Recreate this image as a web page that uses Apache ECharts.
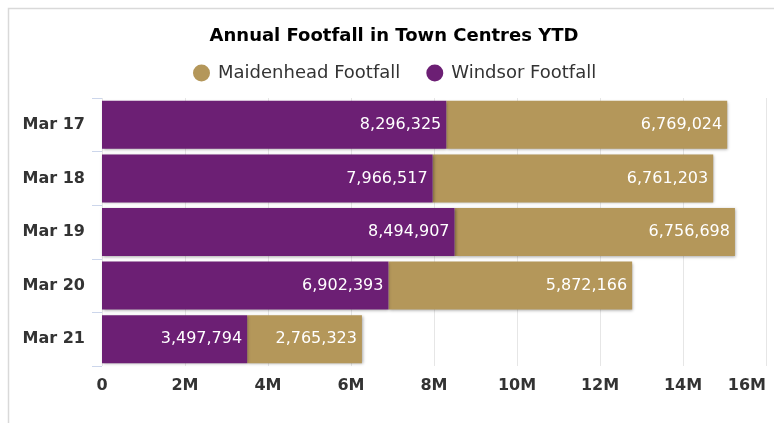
<!DOCTYPE html>
<html>
<head>
<meta charset="utf-8">
<script src="https://cdn.jsdelivr.net/npm/echarts@6/dist/echarts.min.js"></script>
<style>
  html, body { margin: 0; padding: 0; background: #fff; }
  #chart { width: 774px; height: 423px; }
</style>
</head>
<body>
<div id="chart"></div>
<script>
// Year-to-date footfall, town centres
const periods = ['Mar 17', 'Mar 18', 'Mar 19', 'Mar 20', 'Mar 21'];
const windsorFootfall = [8296325, 7966517, 8494907, 6902393, 3497794];
const maidenheadFootfall = [6769024, 6761203, 6756698, 5872166, 2765323];
const axisTicks = [0, 2e6, 4e6, 6e6, 8e6, 10e6, 12e6, 14e6, 16e6];

const FONT = '"DejaVu Sans", Verdana, sans-serif';
const PURPLE = '#6c1f74';
const GOLD = '#b4975a';

const fmtNum = v => String(v).replace(/\B(?=(\d{3})+(?!\d))/g, ',');

const barShadow = {
  shadowColor: 'rgba(0,0,0,0.35)',
  shadowBlur: 3,
  shadowOffsetX: 1,
  shadowOffsetY: 1
};

const valueLabel = {
  show: true,
  position: 'insideRight',
  distance: 5,
  color: '#fff',
  fontFamily: FONT,
  fontSize: 16,
  formatter: p => fmtNum(p.value)
};

const chart = echarts.init(document.getElementById('chart'), null, { renderer: 'canvas' });

chart.setOption({
  animation: false,
  backgroundColor: '#fff',
  graphic: [{
    type: 'rect',
    shape: { x: 8.5, y: 8.5, width: 800, height: 500 },
    style: { fill: 'none', stroke: '#d9d9d9', lineWidth: 1.5 },
    silent: true,
    z: -1
  }],
  title: {
    text: 'Annual Footfall in Town Centres YTD',
    left: 389,
    textAlign: 'center',
    top: 22,
    textStyle: { fontFamily: FONT, fontSize: 18, fontWeight: 'bold', color: '#000' }
  },
  legend: {
    data: ['Maidenhead Footfall', 'Windsor Footfall'],
    left: 188,
    top: 59,
    icon: 'circle',
    itemWidth: 17,
    itemHeight: 17,
    itemGap: 26,
    textStyle: { fontFamily: FONT, fontSize: 18, color: '#333', padding: [0, 0, 0, 3] }
  },
  grid: { left: 102, right: 8, top: 98, bottom: 57, containLabel: false },
  xAxis: {
    type: 'value',
    min: axisTicks[0],
    max: axisTicks[axisTicks.length - 1],
    interval: axisTicks[1] - axisTicks[0],
    axisLine: { show: false },
    axisTick: { show: false },
    splitLine: { show: true, lineStyle: { color: '#e6e6e6', width: 1 } },
    axisLabel: {
      margin: 12,
      fontFamily: FONT,
      fontSize: 16,
      fontWeight: 'bold',
      color: '#333',
      alignMaxLabel: 'right',
      formatter: v => v === 0 ? '0' : (v / 1e6) + 'M'
    }
  },
  yAxis: {
    type: 'category',
    data: periods,
    inverse: true,
    axisLine: { show: false },
    axisTick: { show: true, length: 10, lineStyle: { color: '#ccd6eb' } },
    splitLine: { show: false },
    axisLabel: {
      margin: 17,
      fontFamily: FONT,
      fontSize: 16,
      fontWeight: 'bold',
      color: '#333'
    }
  },
  series: [
    {
      name: 'Windsor Footfall',
      type: 'bar',
      stack: 'footfall',
      data: windsorFootfall,
      barWidth: 48,
      z: 3,
      itemStyle: Object.assign({ color: PURPLE }, barShadow),
      label: valueLabel
    },
    {
      name: 'Maidenhead Footfall',
      type: 'bar',
      stack: 'footfall',
      data: maidenheadFootfall,
      barWidth: 48,
      z: 2,
      itemStyle: Object.assign({ color: GOLD }, barShadow),
      label: valueLabel
    }
  ]
});
</script>
</body>
</html>
